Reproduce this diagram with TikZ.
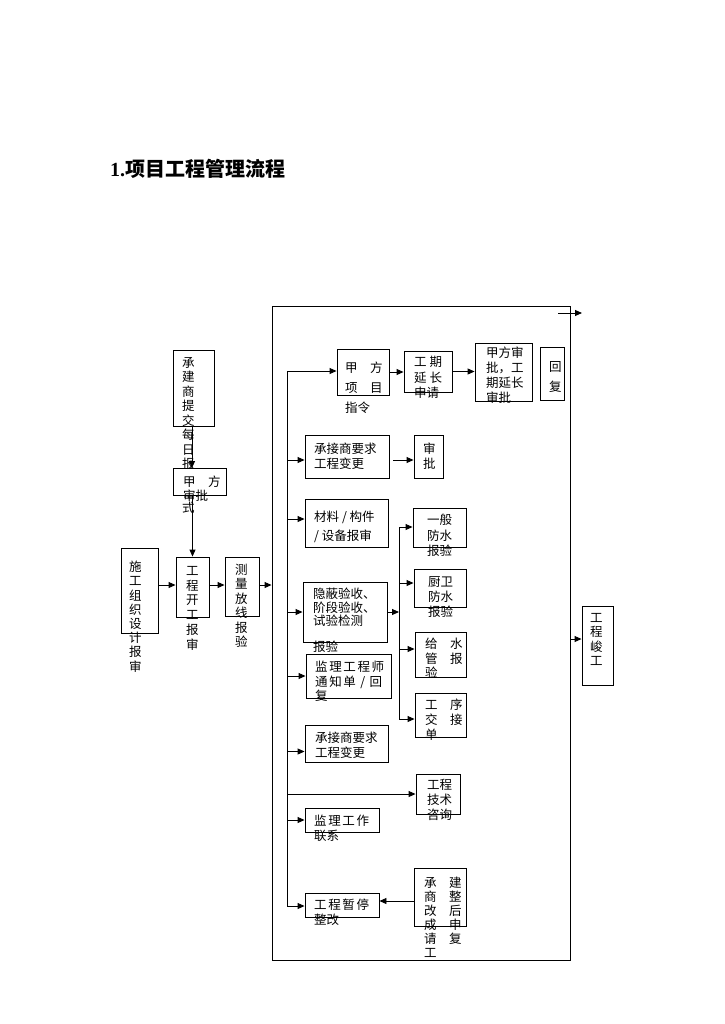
\documentclass[tikz,border=0pt]{standalone}
\usepackage{fontspec}
\setmainfont{Liberation Serif}
\newfontfamily\cjk{Noto Sans CJK SC}
\usetikzlibrary{arrows.meta,fit}
\newcommand\ksp{\kern1.6pt}
\begin{document}
\begin{tikzpicture}[x=1pt,y=-1pt]
\tikzset{
 box/.style={draw, line width=0.9pt, inner sep=0pt},
 arr/.style={-{Triangle[length=7pt,width=6pt]}, line width=0.9pt},
 ln/.style={line width=0.9pt},
 txt/.style={inner sep=0pt, anchor=north west, align=left, font=\cjk\fontsize{12.5}{#1}\selectfont},
 txt/.default=14.5,
}
\fill[white] (0,0) rectangle (724,1024);
\useasboundingbox (0,0) rectangle (724,1024);

% title
\node[anchor=west, inner sep=0pt, font=\fontsize{20}{24}\selectfont\bfseries] (title) at (110,169) {1.{\cjk 项目工程管理流程}};

% big frame
\node[box, fit={(272,306) (570,960)}] (big) {};
\coordinate (tr1) at (558,313);
\coordinate (tr2) at (582,313);
\draw[arr] (tr1) -- (tr2);

% boxes inside frame
\node[box, fit={(337,349) (389,395)}] (bA) {};
\node[box, fit={(404,351) (452,392)}] (bB) {};
\node[box, fit={(475,343) (532,401)}] (bC) {};
\node[box, fit={(540,347) (564,400)}] (bD) {};
\node[box, fit={(305,435) (389,478)}] (bE) {};
\node[box, fit={(414,435) (443,478)}] (bF) {};
\node[box, fit={(305,499) (388,547)}] (bG) {};
\node[box, fit={(413,508) (466,547)}] (bH) {};
\node[box, fit={(414,569) (466,607)}] (bI) {};
\node[box, fit={(303,582) (387,642)}] (bJ) {};
\node[box, fit={(415,632) (466,677)}] (bK) {};
\node[box, fit={(415,693) (466,737)}] (bL) {};
\node[box, fit={(306,654) (391,698)}] (bM) {};
\node[box, fit={(305,725) (388,762)}] (bN) {};
\node[box, fit={(416,774) (460,814)}] (bO) {};
\node[box, fit={(305,808) (379,832)}] (bP) {};
\node[box, fit={(305,893) (379,917)}] (bQ) {};
\node[box, fit={(414,868) (466,926)}] (bR) {};
\node[box, fit={(582,606) (613,685)}] (bS) {};

% left boxes
\node[box, fit={(173,350) (214,426)}] (bT) {};
\node[txt] (tT) at (182,357) {承\\建\\商\\提\\交\\每\\日\\报\\表\\格\\式};
\node[box, fill=white, fit={(173,468) (226,495)}] (bU) {};
\node[box, fit={(121,548) (158,633)}] (bV) {};
\node[box, fit={(176,557) (209,617)}] (bW) {};
\node[box, fit={(225,557) (259,616)}] (bX) {};

% texts
\node[txt=20] (tA) at (345,362) {甲　方\\项　目\\指令};
\node[txt=15.5] (tB) at (414,356) {工 期\\延 长\\申请};
\node[txt=15] (tC) at (486,347) {甲方审\\批，工\\期延长\\审批};
\node[txt=20] (tD) at (549,361) {回\\复};
\node[txt] (tE) at (314,443) {承接商要求\\工程变更};
\node[txt] (tF) at (423,443) {审\\批};
\node[txt=19] (tG) at (314,511) {材料 / 构件\\/ 设备报审};
\node[txt=15.5] (tH) at (427,514) {一般\\防水\\报验};
\node[txt=15] (tI) at (428,576) {厨卫\\防水\\报验};
\node[txt=13.5] (tJ) at (313,588) {隐蔽验收、\\阶段验收、\\试验检测\\[12.5pt]报验};
\node[txt] (tK) at (425,638) {给　水\\管　报\\验};
\node[txt=15] (tL) at (425,699) {工　序\\交　接\\单};
\node[txt] (tM) at (315,661) {监\ksp 理\ksp 工\ksp 程\ksp 师\\通\ksp 知\ksp 单\ksp{} / \ksp 回\\复};
\node[txt] (tN) at (315,732) {承接商要求\\工程变更};
\node[txt=15] (tO) at (427,779) {工程\\技术\\咨询};
\node[txt=15] (tP) at (314,815) {监\ksp 理\ksp 工\ksp 作\\联系};
\node[txt=14.5] (tQ) at (314,899) {工\ksp 程\ksp 暂\ksp 停\\整改};
\node[txt=14] (tR) at (424,877) {承　建\\商　整\\改　后\\成　申\\请　复\\工};
\node[txt] (tS) at (590,613) {工\\程\\峻\\工};
\node[txt=14] (tU) at (183,476) {甲　方\\审批};
\node[txt=14.2] (tV) at (129,561) {施\\工\\组\\织\\设\\计\\报\\审};
\node[txt=14.8] (tW) at (186,566) {工\\程\\开\\工\\报\\审};
\node[txt=14.4] (tX) at (235,564) {测\\量\\放\\线\\报\\验};

% main spine
\coordinate (sT) at (287,371);
\coordinate (sB) at (287,906);
\draw[ln] (sT) -- (sB);
\draw[arr] (sT) -- (sT -| bA.west);
\coordinate (eIn) at ([yshift=-3.5pt]bE.west);
\draw[arr] (sT |- eIn) -- (eIn);
\coordinate (gIn) at ([yshift=4pt]bG.west);
\draw[arr] (sT |- gIn) -- (gIn);
\draw[arr] (sT |- bJ.west) -- (bJ.west);
\draw[arr] (sT |- bM.west) -- (bM.west);
\coordinate (nIn) at ([yshift=-8pt]bN.west);
\draw[arr] (sT |- nIn) -- (nIn);
\draw[arr] (sT |- bO.west) -- (bO.west);
\draw[arr] (sT |- bP.west) -- (bP.west);
\draw[arr] (sB) -- (sB -| bQ.west);

% top row
\draw[arr] (bA.east) -- (bA.east -| bB.west);
\draw[arr] (bB.east) -- (bB.east -| bC.west);
\coordinate (eOut) at ([yshift=-3.5pt,xshift=4pt]bE.east);
\draw[arr] (eOut) -- (eOut -| bF.west);

% secondary spine
\coordinate (s2T) at (399,527);
\coordinate (s2B) at (399,719);
\draw[ln] (s2T) -- (s2B);
\draw[arr] (bJ.east) -- (bJ.east -| s2T);
\draw[arr] (s2T) -- (s2T -| bH.west);
\coordinate (iIn) at ([yshift=5pt]bI.west);
\draw[arr] (s2T |- iIn) -- (iIn);
\coordinate (kIn) at ([yshift=5.5pt]bK.west);
\draw[arr] (s2T |- kIn) -- (kIn);
\draw[arr] (s2B) -- (s2B -| bL.west);

% bottom
\coordinate (rOut) at ([yshift=-4pt]bR.west);
\draw[arr] (rOut) -- (rOut -| bQ.east);

% right
\coordinate (sIn) at ([yshift=6.5pt]bS.west);
\draw[arr] (big.east |- sIn) -- (sIn);

% left chain
\draw[arr] (bT.south -| 192,0) -- (192,468);
\draw[arr] (bW.north |- bU.south) -- (bW.north);
\coordinate (wIn) at ([yshift=2pt]bW.west);
\draw[arr] (bV.east |- wIn) -- (wIn);
\draw[arr] (bW.east |- wIn) -- (bX.west |- wIn);
\draw[arr] (bX.east |- wIn) -- (big.west |- wIn);
\end{tikzpicture}
\end{document}
